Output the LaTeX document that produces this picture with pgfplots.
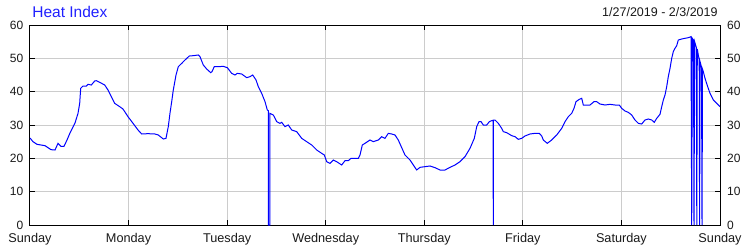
\documentclass[border=0pt]{standalone}
\usepackage{pgfplots}
\pgfplotsset{compat=1.18}
\usepackage{fontspec}
\setmainfont{Liberation Sans}
\definecolor{gridgray}{RGB}{204,204,204}
\definecolor{titleblue}{RGB}{32,32,255}
\definecolor{txt}{RGB}{25,25,25}
\pgfplotstableread{
h v
0 26.1
0.73 25
1.70 24.2
2.68 24
3.65 23.8
4.38 23.2
5.11 22.6
6.09 22.5
6.82 24.5
7.55 23.6
8.28 23.6
9.01 25.5
9.74 27.6
10.96 30.6
11.69 33.5
12.10 36.5
12.34 41
12.90 41.7
13.71 41.7
14.12 42.2
14.93 42
15.75 43.2
16.14 43.3
16.97 42.8
18.19 42
18.99 40.5
19.79 38.5
20.62 36.5
21.84 35.5
22.64 34.8
23.86 32.5
25.08 30.5
26.30 28.5
27.20 27.3
28.73 27.4
30.43 27.3
31.24 27
32.46 25.8
33.11 26
33.67 29.5
34.09 33.6
34.50 37
34.89 40.5
35.55 45
36.11 47.5
36.94 48.5
37.74 49.5
38.79 50.7
39.76 50.8
40.98 51
41.39 50.5
42.19 48
43.02 46.8
44.00 45.7
44.31 46
44.87 47.5
45.85 47.5
47.06 47.6
48.04 47.2
49.11 45.5
49.91 45
50.47 45.5
51.54 45.3
52.76 44.2
53.57 44.5
54.22 45
55.03 43.5
55.59 41.5
56.41 39.5
57.22 37
57.78 34.5
58.02 34.3
58.02 0
58.43 0
58.43 33.5
59.24 33
60.07 31
60.87 30.5
61.28 30.8
62.09 29.5
62.89 30
63.72 28.5
64.94 28
66.15 26
67.37 25
68.59 24
69.81 22.5
71.02 21.5
71.66 21
72.24 19
73.04 18.5
73.85 19.5
74.67 19
75.89 18
76.70 19.3
77.50 19.3
78.16 20
79.13 20
79.93 20
80.35 21
80.91 24
81.57 24.5
82.78 25.5
83.59 25
84.80 25.5
85.63 26.5
86.43 26
87.24 27.5
88.07 27.3
88.87 27
89.67 25.5
90.50 23.2
91.30 21
92.52 19.5
93.33 18
94.15 16.5
94.96 17.3
96.17 17.5
97.39 17.7
98.61 17.2
99.83 16.5
101.04 16.5
102.26 17.3
103.48 18
104.70 19
105.91 20.5
107.13 23
108.18 26
108.76 29.5
109.32 31
109.81 31
110.37 30
111.20 30
111.83 31
112.41 31.3
112.76 31.4
112.80 0
112.85 31.5
113.22 31.5
114.02 30.5
114.85 29
115.24 28
116.07 27.7
117.28 26.8
118.09 26.5
118.89 25.7
119.72 26
120.52 26.7
121.74 27.3
122.96 27.5
124.00 27.5
124.59 26.7
124.98 25.5
125.95 24.5
127.02 25.5
128.24 27
129.46 29
130.26 31
131.07 32.5
131.89 33.5
132.45 35
132.94 37
133.74 37.7
134.33 38
134.72 36
135.54 36
136.35 36
137.32 37
137.98 37
138.78 36.3
140.00 36
141.22 36.2
142.43 36
143.48 36
144.07 35
144.87 34.2
145.67 33.8
146.50 33
147.30 31.5
148.11 30.5
148.93 30.3
149.74 31.5
150.54 31.8
151.37 31.5
152.00 30.8
152.59 32
153.39 33.2
153.81 35.5
154.20 37.5
154.61 39
155.02 41.5
155.41 44.5
155.83 47
156.24 50
156.63 52
157.04 53
157.46 53.8
157.85 55.5
158.67 55.8
159.48 56
160.28 56.2
160.94 56.5
161.11 0
161.26 56
161.55 55.5
161.67 0
161.82 55
162.23 53.3
162.35 0
162.47 52.8
162.72 51
162.94 49.5
163.03 0
163.15 49
163.50 47.3
163.62 0
163.74 46.7
163.93 46
164.35 44
165.00 41.5
165.57 39.5
166.37 37.5
167.20 36.5
168.00 35.5
}\heatdata
\begin{document}
\begin{tikzpicture}
\path[use as bounding box] (-30bp,-25bp) rectangle (720bp,225bp);
\begin{axis}[
  at={(0,0)}, anchor=south west,
  width=690bp, height=200bp, scale only axis,
  xmin=0, xmax=168, ymin=0, ymax=60,
  xtick={0,24,48,72,96,120,144,168},
  xticklabels={Sunday,Monday,Tuesday,Wednesday,Thursday,Friday,Saturday,Sunday},
  ytick={0,10,...,60},
  grid=major,
  major grid style={gridgray, line width=1bp},
  axis line style={black, line width=1bp},
  major tick style={black, line width=1bp},
  tick align=inside,
  major tick length=5bp,
  /pgf/number format/assume math mode=true,
  xticklabel style={font=\fontsize{12.7bp}{15bp}\selectfont, text=txt, inner sep=0pt, anchor=north, yshift=-8bp},
  yticklabel style={font=\fontsize{12bp}{14bp}\selectfont, text=txt, inner sep=0pt, anchor=east, xshift=-6.5bp},
]
\addplot[blue, line width=1bp, mark=none] table[x=h, y=v] {\heatdata};
\end{axis}
\begin{axis}[
  at={(0,0)}, anchor=south west,
  width=690bp, height=200bp, scale only axis,
  xmin=0, xmax=168, ymin=0, ymax=60,
  axis line style={draw=none},
  major tick style={draw=none},
  xtick=\empty,
  ytick={0,10,...,60},
  yticklabel pos=right,
  /pgf/number format/assume math mode=true,
  yticklabel style={font=\fontsize{12bp}{14bp}\selectfont, text=txt, inner sep=0pt, anchor=west, xshift=7bp},
]
\end{axis}
\node[anchor=base west, inner sep=0pt, text=titleblue, font=\fontsize{15.5bp}{18bp}\selectfont] at (2.2bp,207.7bp) {Heat Index};
\node[anchor=base east, inner sep=0pt, text=txt, font=\fontsize{12.5bp}{15bp}\selectfont] at (687.8bp,208.3bp) {1/27/2019 - 2/3/2019};
\end{tikzpicture}
\end{document}
